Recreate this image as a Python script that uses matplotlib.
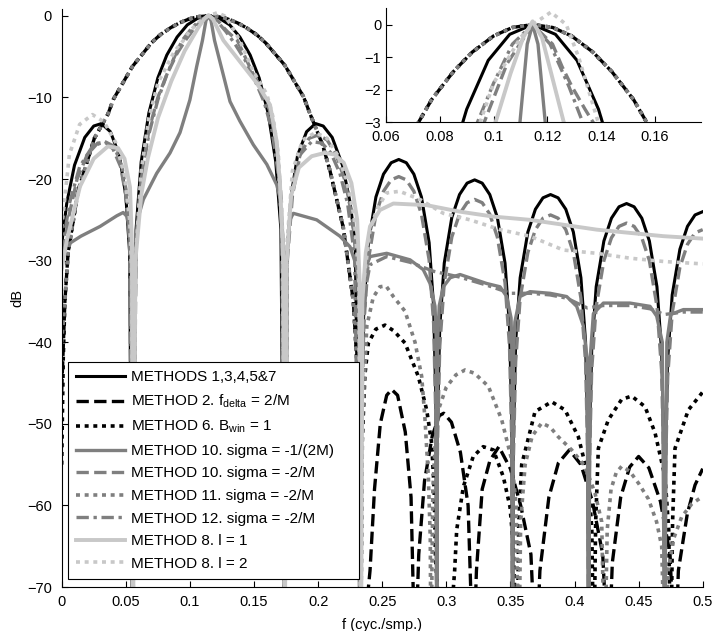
import numpy as np
import matplotlib
matplotlib.use("Agg")
import matplotlib.pyplot as plt

plt.rcParams["font.family"] = ["Liberation Sans", "DejaVu Sans"]
plt.rcParams["mathtext.fontset"] = "custom"
plt.rcParams["mathtext.rm"] = "Liberation Sans"
plt.rcParams["mathtext.it"] = "Liberation Sans:italic"

# ---- data: (f [cyc/smp], level [dB]) ----
# wide main lobe shared by methods 2, 6 and 11
wide_lobe = [(0.0025, -35), (0.005, -29), (0.0107, -23.5), (0.0127, -21.5), (0.0255, -15),
             (0.0362, -12), (0.0404, -10.2), (0.0552, -6.2), (0.070, -3.3), (0.077, -2.3),
             (0.085, -1.45), (0.092, -0.85), (0.100, -0.35), (0.107, -0.09), (0.1145, 0),
             (0.122, -0.09), (0.129, -0.35), (0.137, -0.85), (0.144, -1.45), (0.152, -2.3),
             (0.159, -3.3), (0.1738, -6.0), (0.1886, -9.9), (0.1937, -12), (0.2035, -15.8),
             (0.2093, -19), (0.2197, -26), (0.2275, -35), (0.2301, -42), (0.2318, -52),
             (0.2331, -80)]

m1 = [(0.000, -28.0), (0.004, -22.9), (0.010, -18.3), (0.018, -14.9), (0.025, -13.5),
      (0.031, -13.2), (0.038, -14.2), (0.045, -17.1), (0.050, -22.0), (0.053, -29.0),
      (0.0552, -80), (0.058, -26.2), (0.062, -17.9), (0.068, -11.9), (0.075, -7.6),
      (0.082, -4.8), (0.090, -2.6), (0.098, -1.1), (0.106, -0.3), (0.1145, 0.0),
      (0.123, -0.3), (0.131, -1.1), (0.139, -2.6), (0.147, -4.8), (0.154, -7.6),
      (0.161, -11.9), (0.167, -17.9), (0.171, -26.2), (0.1738, -80), (0.176, -29.0),
      (0.179, -22.0), (0.184, -17.1), (0.191, -14.2), (0.198, -13.2), (0.204, -13.5),
      (0.211, -14.9), (0.219, -18.3), (0.225, -22.9), (0.229, -28.0), (0.2333, -80),
      (0.2339, -47.7), (0.2357, -35.6), (0.2392, -27.8), (0.2451, -22.2), (0.2510, -19.4),
      (0.2570, -18.0), (0.2629, -17.6), (0.2688, -18.0), (0.2747, -19.4), (0.2806, -22.2),
      (0.2866, -27.8), (0.2901, -35.6), (0.2919, -47.7), (0.2925, -80),
      (0.2931, -50.2), (0.2949, -38.1), (0.2984, -30.3), (0.3043, -24.7), (0.3103, -21.9),
      (0.3162, -20.5), (0.3221, -20.1), (0.3280, -20.5), (0.3339, -21.9), (0.3398, -24.7),
      (0.3458, -30.3), (0.3493, -38.1), (0.3511, -50.2), (0.3517, -80),
      (0.3523, -52.0), (0.3541, -39.9), (0.3576, -32.1), (0.3636, -26.5), (0.3695, -23.7),
      (0.3754, -22.3), (0.3813, -21.9), (0.3872, -22.3), (0.3932, -23.7), (0.3991, -26.5),
      (0.4050, -32.1), (0.4086, -39.9), (0.4104, -52.0), (0.4110, -80),
      (0.4116, -53.1), (0.4134, -41.0), (0.4169, -33.2), (0.4229, -27.6), (0.4288, -24.8),
      (0.4347, -23.4), (0.4406, -23.0), (0.4465, -23.4), (0.4525, -24.8), (0.4584, -27.6),
      (0.4643, -33.2), (0.4679, -41.0), (0.4697, -53.1), (0.4703, -80),
      (0.4709, -54.1), (0.4727, -42.0), (0.4762, -34.2), (0.4822, -28.6), (0.4881, -25.8),
      (0.4940, -24.4), (0.5000, -24.0)]

m2 = [(0.000, -46)] + wide_lobe + [
      (0.2405, -68), (0.244, -58), (0.2485, -50), (0.2535, -46.5), (0.2574, -45.8),
      (0.262, -46.5), (0.268, -51), (0.2725, -59), (0.2756, -80), (0.2785, -66),
      (0.283, -57), (0.289, -51.5), (0.2945, -49), (0.298, -48.7), (0.304, -49.8),
      (0.311, -53.5), (0.317, -60), (0.321, -80), (0.3235, -68), (0.328, -58),
      (0.334, -54.5), (0.341, -52.8), (0.350, -55.5), (0.358, -60), (0.366, -66),
      (0.370, -80), (0.373, -68), (0.380, -59), (0.3874, -54.8), (0.396, -53.2),
      (0.405, -55), (0.414, -59.5), (0.422, -66), (0.4264, -80), (0.4295, -67),
      (0.436, -59), (0.443, -55.3), (0.450, -54), (0.458, -55.4), (0.467, -59.5),
      (0.4745, -66), (0.4784, -80), (0.481, -68), (0.488, -61), (0.494, -57.5),
      (0.500, -55.5)]

m6 = [(0.000, -55), (0.0012, -42)] + wide_lobe + [
      (0.2345, -52), (0.2365, -44), (0.2392, -40.1), (0.245, -38.4), (0.2522, -37.9),
      (0.259, -38.6), (0.2678, -40.1), (0.2782, -44.2), (0.2847, -48.3), (0.2886, -52.4),
      (0.2905, -58), (0.2915, -66), (0.2985, -85), (0.3065, -68), (0.3081, -63),
      (0.3133, -57.7), (0.321, -54), (0.3288, -52.8), (0.3367, -53.2), (0.3445, -56.5),
      (0.3497, -60.2), (0.3523, -65), (0.355, -80), (0.3565, -62), (0.3588, -55),
      (0.3692, -48.5), (0.3822, -47.3), (0.3926, -48.3), (0.403, -51.6), (0.4108, -56.5),
      (0.4135, -63), (0.415, -80), (0.4165, -62), (0.4186, -53), (0.4264, -49.5),
      (0.4368, -47), (0.4446, -46.6), (0.455, -47.9), (0.4628, -51.1), (0.4706, -56.5),
      (0.4735, -63), (0.475, -80), (0.4765, -62), (0.4784, -53), (0.4888, -48.3),
      (0.500, -46.1)]

m10a = [(0.000, -28.5), (0.015, -27.0), (0.030, -25.8), (0.043, -24.5), (0.048, -24.1),
        (0.051, -24.6), (0.053, -26.5), (0.0545, -31), (0.0555, -80), (0.0568, -30),
        (0.060, -24.5), (0.0637, -22.5), (0.0741, -19.3), (0.0845, -16.8), (0.0923, -14.3),
        (0.100, -10.3), (0.1053, -6.2), (0.1098, -3.0), (0.1125, -0.6), (0.1145, 0.0),
        (0.1165, -0.6), (0.1192, -3.0), (0.126, -7.2), (0.1313, -10.5), (0.139, -12.9),
        (0.1495, -15.8), (0.160, -18.2), (0.1677, -20.7), (0.1703, -22.3), (0.1725, -27),
        (0.174, -80), (0.1752, -30), (0.178, -25), (0.1807, -24.2), (0.1989, -25),
        (0.217, -27), (0.2249, -28.3), (0.230, -30.7), (0.2322, -35), (0.2331, -80),
        (0.2342, -35), (0.237, -31), (0.2405, -29.5), (0.2535, -29.1), (0.2717, -29.9),
        (0.282, -31.1), (0.2873, -32.8), (0.2912, -35.6), (0.2922, -40), (0.2925, -80),
        (0.2932, -40), (0.2945, -35.5), (0.2977, -33.2), (0.303, -32.1), (0.3107, -31.7),
        (0.3315, -32.8), (0.3419, -33.2), (0.3471, -34.4), (0.3505, -37), (0.3513, -42),
        (0.3517, -80), (0.3523, -42), (0.3535, -37.5), (0.3575, -34.4), (0.3653, -33.8),
        (0.3809, -34.0), (0.3939, -34.4), (0.4017, -35.6), (0.4069, -38), (0.4098, -42),
        (0.411, -80), (0.4122, -42), (0.4147, -36.5), (0.4225, -35.2), (0.4433, -35.2),
        (0.4589, -35.6), (0.4641, -36.8), (0.4685, -40), (0.4703, -80), (0.472, -40),
        (0.475, -36.6), (0.4849, -36.0), (0.500, -36.0)]

m10b = [(0.000, -31.0), (0.005, -25.0), (0.012, -20.0), (0.020, -17.0), (0.028, -15.6),
        (0.034, -15.5), (0.040, -16.3), (0.046, -18.5), (0.050, -22.0), (0.053, -28.0),
        (0.0552, -80), (0.058, -28.0), (0.062, -20.0), (0.068, -14.0), (0.075, -10.0),
        (0.082, -7.2), (0.090, -4.6), (0.0965, -3.0), (0.105, -1.2), (0.1145, 0.0),
        (0.1219, -0.6), (0.1255, -1.3), (0.1291, -1.9), (0.134, -2.6), (0.137, -3.0),
        (0.1495, -7.2), (0.1547, -8.6), (0.162, -11.5), (0.168, -16.0), (0.1715, -23.0),
        (0.1738, -80), (0.176, -30.0), (0.180, -22.0), (0.186, -17.0), (0.193, -15.0),
        (0.200, -14.6), (0.207, -15.2), (0.214, -17.0), (0.221, -20.2), (0.227, -25.0),
        (0.2315, -33.0), (0.2333, -80),
        (0.2339, -49.8), (0.2357, -37.7), (0.2392, -29.9), (0.2451, -24.3), (0.2510, -21.5),
        (0.2570, -20.1), (0.2629, -19.7), (0.2688, -20.1), (0.2747, -21.5), (0.2806, -24.3),
        (0.2866, -29.9), (0.2901, -37.7), (0.2919, -49.8), (0.2925, -80),
        (0.2931, -52.6), (0.2949, -40.5), (0.2984, -32.7), (0.3043, -27.1), (0.3103, -24.3),
        (0.3162, -22.9), (0.3221, -22.5), (0.3280, -22.9), (0.3339, -24.3), (0.3398, -27.1),
        (0.3458, -32.7), (0.3493, -40.5), (0.3511, -52.6), (0.3517, -80),
        (0.3523, -54.5), (0.3541, -42.4), (0.3576, -34.6), (0.3636, -29.0), (0.3695, -26.2),
        (0.3754, -24.8), (0.3813, -24.4), (0.3872, -24.8), (0.3932, -26.2), (0.3991, -29.0),
        (0.4050, -34.6), (0.4086, -42.4), (0.4104, -54.5), (0.4110, -80),
        (0.4116, -55.5), (0.4134, -43.4), (0.4169, -35.6), (0.4229, -30.0), (0.4288, -27.2),
        (0.4347, -25.8), (0.4406, -25.4), (0.4465, -25.8), (0.4525, -27.2), (0.4584, -30.0),
        (0.4643, -35.6), (0.4679, -43.4), (0.4697, -55.5), (0.4703, -80),
        (0.4709, -56.3), (0.4727, -44.2), (0.4762, -36.4), (0.4822, -30.8), (0.4881, -28.0),
        (0.4940, -26.6), (0.5000, -26.2)]

m11 = [(0.000, -40)] + wide_lobe + [
       (0.2345, -50), (0.238, -38), (0.243, -34.5), (0.2482, -33.2), (0.253, -33.1),
       (0.2587, -34.4), (0.2678, -36.2), (0.2756, -40), (0.2808, -44.2), (0.2834, -49.5),
       (0.286, -56.5), (0.2875, -64), (0.288, -80), (0.2895, -58), (0.2915, -52),
       (0.2938, -48.3), (0.300, -45.5), (0.3075, -44), (0.3146, -43.4), (0.322, -43.8),
       (0.3328, -45.4), (0.3432, -49.5), (0.351, -54.4), (0.3545, -60), (0.3565, -80),
       (0.358, -62), (0.3615, -55), (0.367, -51.5), (0.3744, -49.9), (0.381, -50.4),
       (0.3874, -51.6), (0.3978, -53.2), (0.4082, -55.2), (0.416, -58.5), (0.4212, -62),
       (0.4235, -80), (0.4255, -63), (0.4285, -58), (0.4325, -56), (0.4368, -55.2),
       (0.443, -55.8), (0.450, -57.3), (0.4576, -59.2), (0.464, -62), (0.468, -65),
       (0.4705, -80), (0.473, -68), (0.4775, -64), (0.4836, -61.4), (0.4915, -59.8),
       (0.500, -58.9)]

m12 = [(0.000, -29.0), (0.006, -23.0), (0.014, -18.5), (0.024, -16.0), (0.0335, -15.4),
       (0.041, -16.0), (0.047, -18.5), (0.051, -22.0), (0.0538, -29.0), (0.0552, -80),
       (0.0575, -28.0), (0.062, -20.0), (0.068, -14.5), (0.075, -10.3), (0.082, -7.2),
       (0.088, -5.0), (0.094, -3.0), (0.100, -1.8), (0.107, -0.6), (0.1145, 0.0),
       (0.121, -0.6), (0.128, -1.9), (0.135, -3.4), (0.143, -5.4), (0.151, -8.0),
       (0.158, -10.6), (0.164, -14.0), (0.169, -19.5), (0.172, -27.0), (0.1738, -80),
       (0.176, -28.0), (0.180, -21.0), (0.186, -17.0), (0.195, -15.4), (0.203, -15.6),
       (0.210, -16.8), (0.217, -19.3), (0.223, -23.0), (0.2285, -29.5), (0.2331, -80),
       (0.2345, -40), (0.2375, -33), (0.2405, -30.5), (0.2535, -29.5), (0.2717, -30.2),
       (0.290, -31.3), (0.310, -32.0), (0.3315, -33.0), (0.350, -34.0), (0.3653, -34.0),
       (0.3809, -34.2), (0.3939, -34.6), (0.410, -35.8), (0.4225, -35.5), (0.4433, -35.5),
       (0.4589, -35.9), (0.470, -36.6), (0.4849, -36.3), (0.500, -36.3)]

m8a = [(0.000, -31.0), (0.004, -27.5), (0.0143, -20.9), (0.025, -17.5), (0.036, -16.0),
       (0.044, -16.2), (0.049, -17.5), (0.0533, -21.0), (0.0548, -28.0), (0.0555, -80),
       (0.0575, -30.0), (0.0621, -21.9), (0.0673, -17.4), (0.0751, -12.5), (0.0855, -8.0),
       (0.0959, -4.3), (0.1063, -1.5), (0.111, -0.4), (0.1145, 0.1), (0.118, -0.4),
       (0.1261, -3.0), (0.139, -5.6), (0.152, -8.2), (0.1625, -10.9), (0.1677, -15.4),
       (0.1703, -20.7), (0.1728, -30.0), (0.174, -80), (0.1755, -30.0), (0.179, -22.0),
       (0.185, -18.6), (0.195, -17.2), (0.205, -16.8), (0.213, -17.0), (0.220, -18.0),
       (0.226, -20.5), (0.2305, -25.0), (0.2325, -33.0), (0.2335, -80), (0.2345, -35.0),
       (0.2372, -29.0), (0.2405, -25.8), (0.2482, -23.8), (0.2587, -23.0), (0.2847, -23.2),
       (0.3107, -24.0), (0.3367, -24.6), (0.3653, -25.0), (0.3913, -25.6), (0.4173, -26.2),
       (0.4433, -26.6), (0.4693, -27.0), (0.500, -27.3)]

m8b = [(0.000, -26.0), (0.006, -17.0), (0.014, -13.3), (0.024, -12.1), (0.033, -13.0),
       (0.042, -15.5), (0.049, -19.5), (0.053, -25.0), (0.0548, -32.0), (0.0555, -80),
       (0.0575, -30.0), (0.062, -19.0), (0.068, -12.5), (0.0751, -8.2), (0.0881, -4.3),
       (0.095, -3.0), (0.100, -1.8), (0.110, -0.4), (0.1145, 0.0), (0.1213, 0.38),
       (0.127, 0.0), (0.1316, -1.0), (0.1389, -3.0), (0.1495, -6.8), (0.160, -9.6),
       (0.165, -12.5), (0.169, -17.0), (0.1725, -27.0), (0.174, -80), (0.1757, -28.0),
       (0.180, -19.0), (0.188, -15.2), (0.198, -14.3), (0.207, -15.0), (0.215, -17.0),
       (0.222, -20.0), (0.228, -24.5), (0.2318, -32.0), (0.2331, -80), (0.2345, -34.0),
       (0.2405, -26.2), (0.2457, -23.8), (0.2533, -21.7), (0.2636, -21.5), (0.2794, -22.5),
       (0.2977, -24.2), (0.3185, -25.0), (0.3419, -26.2), (0.3653, -27.0), (0.3913, -28.7),
       (0.4173, -29.1), (0.4433, -29.7), (0.4693, -30.1), (0.500, -30.4)]

labels = ["METHODS 1,3,4,5&7",
          r"METHOD 2. f$_{\mathrm{delta}}$ = 2/M",
          r"METHOD 6. B$_{\mathrm{win}}$ = 1",
          "METHOD 10. sigma = -1/(2M)",
          "METHOD 10. sigma = -2/M",
          "METHOD 11. sigma = -2/M",
          "METHOD 12. sigma = -2/M",
          "METHOD 8. l = 1",
          "METHOD 8. l = 2"]
curves = [m1, m2, m6, m10a, m10b, m11, m12, m8a, m8b]

black = "#000000"
gray = "#7f7f7f"
light = "#c8c8c8"
styles = [dict(color=black, lw=2.2, ls="-"),
          dict(color=black, lw=2.4, dashes=(3.7, 1.6)),
          dict(color=black, lw=2.6, dashes=(1.1, 1.3)),
          dict(color=gray, lw=2.4, ls="-"),
          dict(color=gray, lw=2.4, dashes=(3.7, 1.6)),
          dict(color=gray, lw=2.6, dashes=(1.1, 1.3)),
          dict(color=gray, lw=2.4, dashes=(3.7, 1.4, 1.0, 1.4)),
          dict(color=light, lw=2.8, ls="-"),
          dict(color=light, lw=2.6, dashes=(1.1, 1.3))]

fig = plt.figure(figsize=(7.14, 6.31), dpi=100)
ax = fig.add_axes([0.0864, 0.0697, 0.8978, 0.9155])
ins = fig.add_axes([0.5406, 0.8062, 0.4408, 0.1807])

for c, lab, st in zip(curves, labels, styles):
    f = np.array([p[0] for p in c])
    db = np.array([p[1] for p in c])
    ax.plot(f, db, label=lab, **st)
    ins.plot(f, db, **st)

ax.set_xlim(0, 0.5)
ax.set_ylim(-70, 0.8)
ax.set_xticks([0, 0.05, 0.1, 0.15, 0.2, 0.25, 0.3, 0.35, 0.4, 0.45, 0.5])
ax.set_xticklabels(["0", "0.05", "0.1", "0.15", "0.2", "0.25", "0.3", "0.35", "0.4", "0.45", "0.5"])
ax.set_yticks([0, -10, -20, -30, -40, -50, -60, -70])
ax.set_xlabel("f (cyc./smp.)", fontsize=10.5, labelpad=6)
ax.set_ylabel("dB", fontsize=10.5, labelpad=2)

ins.set_xlim(0.06, 0.177)
ins.set_ylim(-3, 0.5)
ins.set_xticks([0.06, 0.08, 0.1, 0.12, 0.14, 0.16])
ins.set_xticklabels(["0.06", "0.08", "0.1", "0.12", "0.14", "0.16"])
ins.set_yticks([0, -1, -2, -3])

for a in (ax, ins):
    a.spines["top"].set_visible(False)
    a.spines["right"].set_visible(False)
    a.tick_params(direction="in", length=4, labelsize=10.5, width=0.8)
ax.tick_params(axis="x", pad=6)
ax.tick_params(axis="y", pad=7)
ins.tick_params(axis="x", pad=5.5)

leg = ax.legend(loc="lower left", bbox_to_anchor=(0.0098, 0.0138, 0.454, 0.0),
                mode="expand", borderaxespad=0,
                fontsize=11, handlelength=3.2, handletextpad=0.35, labelspacing=0.56,
                borderpad=0.55, fancybox=False, framealpha=1, edgecolor="black")
leg.get_frame().set_linewidth(0.8)

fig.savefig("out.png", dpi=100)
